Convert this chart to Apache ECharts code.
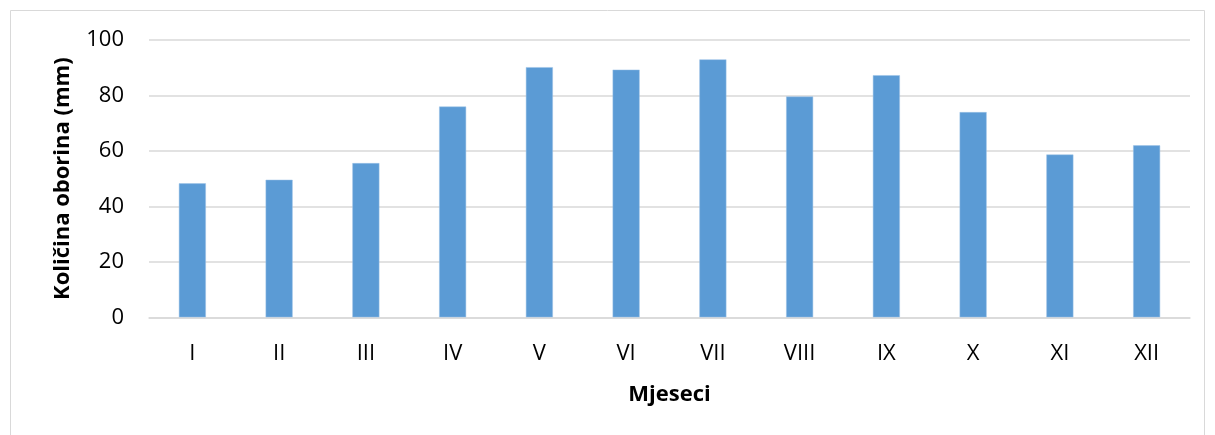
<!DOCTYPE html>
<html>
<head>
<meta charset="utf-8">
<script src="https://cdn.jsdelivr.net/npm/echarts@6/dist/echarts.min.js"></script>
<style>html,body{margin:0;padding:0;background:#fff;}#c{width:1215px;height:435px;}</style>
</head>
<body>
<div id="c"></div>
<script>
const categories = ['I','II','III','IV','V','VI','VII','VIII','IX','X','XI','XII'];
const precipitation = [48.3, 49.6, 55.6, 76.0, 90.2, 89.3, 93.0, 79.6, 87.3, 74.0, 58.7, 62.0];
const yTicks = [0, 20, 40, 60, 80, 100];
const xTitle = 'Mjeseci';
const yTitle = 'Količina oborina (mm)';

const FONT = 'Open Sans';
const chart = echarts.init(document.getElementById('c'), null, {renderer: 'canvas'});
chart.setOption({
  animation: false,
  backgroundColor: '#fff',
  textStyle: {fontFamily: FONT},
  graphic: [{
    type: 'rect', silent: true, z: -1,
    shape: {x: 10.5, y: 10.5, width: 1194, height: 440},
    style: {fill: 'none', stroke: '#d9d9d9', lineWidth: 1}
  }],
  grid: {left: 149, right: 25, top: 40, bottom: 117.7, containLabel: false},
  xAxis: {
    type: 'category',
    data: categories,
    name: xTitle,
    nameLocation: 'middle',
    nameGap: 66,
    nameTextStyle: {fontFamily: FONT, fontWeight: 'bold', fontSize: 22, color: '#000'},
    axisLine: {show: true, lineStyle: {color: '#d9d9d9', width: 1.5}},
    axisTick: {show: false},
    axisLabel: {fontFamily: FONT, fontSize: 22, color: '#000', margin: 25}
  },
  yAxis: {
    type: 'value',
    min: yTicks[0], max: yTicks[yTicks.length - 1], interval: 20,
    name: yTitle,
    nameLocation: 'middle',
    nameGap: 75,
    nameRotate: 90,
    nameTextStyle: {fontFamily: FONT, fontWeight: 'bold', fontSize: 22, color: '#000'},
    axisLine: {show: false},
    axisTick: {show: false},
    axisLabel: {fontFamily: FONT, fontSize: 22, color: '#000', margin: 25},
    splitLine: {show: true, lineStyle: {color: '#d9d9d9', width: 1.5}}
  },
  series: [{
    type: 'bar',
    data: precipitation,
    barWidth: 27,
    itemStyle: {color: '#5b9bd5', borderColor: '#9dc3e6', borderWidth: 0.5}
  }]
});
</script>
</body>
</html>
